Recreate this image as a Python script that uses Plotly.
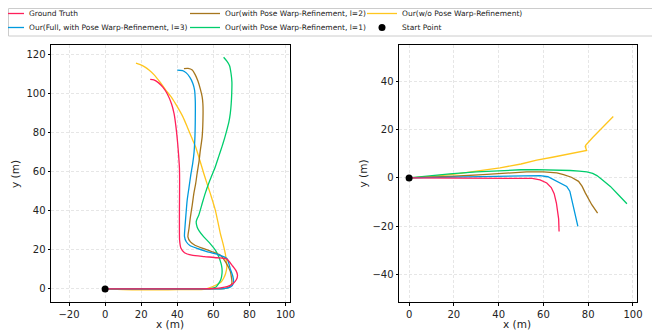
import plotly.graph_objects as go

# ---------------- data ----------------
# Left panel trajectories (x, y in metres)
gt_a_x = [0, 10, 20, 30, 40, 50, 58, 64, 68, 71, 72.8, 73.4, 72.5, 70.5, 67.5, 62, 55, 48, 44, 42, 41.3, 41.2, 41.2, 41.3, 41.2, 40.8, 40.2, 39.3, 38.2, 36.8, 34.5, 32, 29.5, 27, 25]
gt_a_y = [0, 0, 0, 0, 0, 0, 0.1, 0.5, 1.3, 2.8, 4.8, 7.0, 9.5, 12, 15.3, 16.0, 16.6, 17.3, 18.6, 21, 25, 30, 40, 55, 62, 68, 75, 83, 90, 95, 100, 103.5, 105.8, 107.2, 107.5]

full_a_x = [0, 10, 20, 30, 40, 50, 60, 66, 69.5, 71.2, 70.8, 69.5, 67.5, 62, 56, 51, 47, 45, 44, 44.3, 44.8, 45.5, 46.5, 47.5, 48.5, 49.3, 49.8, 50, 50, 49.6, 48.6, 47, 45, 43, 40]
full_a_y = [0, 0, 0, 0, 0, 0, 0, 0.2, 1.0, 3.0, 6.5, 10, 15.6, 17.8, 19.3, 20.8, 22.3, 24.2, 27, 32, 38, 45.5, 52, 58.5, 64, 70, 78, 88, 96, 102, 105.5, 108.5, 110.8, 112, 112.2]

l2_a_x = [0, 10, 20, 30, 40, 50, 60, 66, 68.8, 70.3, 70.1, 69.4, 67, 63.9, 59, 54.7, 50, 47.3, 45.9, 46.5, 47.3, 48.3, 49.2, 50.2, 51, 52, 52.8, 53.8, 54.3, 54.2, 53.8, 52.8, 51.5, 50, 48.3, 46, 43.7]
l2_a_y = [0, 0, 0, 0, 0, 0, 0, 0.2, 1.0, 3.0, 5.5, 9, 13.5, 17.3, 19.2, 20.7, 22.3, 24.1, 26.7, 31, 37, 43, 49, 54, 59.2, 65, 71.2, 78, 90, 95, 98.5, 102.5, 106.5, 109.8, 112.3, 113.1, 113]

l1_a_x = [0, 10, 20, 30, 40, 50, 58.3, 61.5, 62.9, 64.2, 64.8, 64.8, 64.3, 63, 61.1, 58, 54.7, 52.3, 51, 50.5, 51, 51.9, 53.8, 55.5, 57.4, 59.3, 61.1, 63, 64.8, 66.3, 67.5, 68.6, 69.4, 69.9, 70.2, 70.3, 69.8, 69, 67.5, 65.7]
l1_a_y = [0, 0, 0, 0, 0, 0, 0.2, 1.0, 2.7, 5, 7.9, 10.5, 13, 16.5, 19.9, 23.5, 26.7, 29.5, 31.8, 34.4, 36, 37.8, 43.8, 49, 54.1, 58.5, 62.7, 68, 73, 77.5, 81.5, 85.5, 90, 95, 100.3, 106, 110.6, 114.5, 116.8, 118.8]

wo_a_x = [0, 10, 20, 30, 40, 47.3, 54.7, 59, 62, 64.3, 65.7, 66.8, 67.5, 67.2, 66.6, 65.3, 63.9, 62.5, 61.1, 59.8, 58.3, 56.5, 54.7, 52.5, 50.1, 47.8, 45.5, 43, 40, 37, 33.6, 30.5, 27.2, 24.5, 21.7, 19.5, 17.1]
wo_a_y = [0, -0.3, -0.5, -0.5, -0.4, -0.3, -0.2, 1.0, 2.3, 3.6, 5.5, 7.9, 11.5, 14.7, 18.2, 23.5, 28.4, 34.5, 40.4, 44.5, 49, 54, 59.2, 66, 73, 78, 83.2, 88.5, 93.5, 98, 102, 106, 109.8, 112.2, 114, 115, 115.8]

# Right panel trajectories
gt_b_x = [0, 10, 20, 30, 40, 50, 55, 58.5, 61.5, 63.5, 64.8, 65.8, 66.4, 66.8, 67]
gt_b_y = [0, 0, 0, 0, 0, 0, -0.2, -0.8, -2.1, -4, -6.5, -10.4, -13.5, -17, -22.2]

full_b_x = [0, 10, 20, 33, 45, 52, 58.5, 62, 64.5, 67.5, 70.4, 71.8, 72.8, 73.7, 74.6, 75.4]
full_b_y = [0, 0.2, 0.4, 0.7, 0.9, 1.0, 1.0, 0.5, -0.7, -2.0, -3.5, -5.5, -9.5, -13.9, -17, -20.1]

l2_b_x = [0, 10, 20, 33, 45, 52.5, 60, 66, 69, 72.5, 75.7, 77.3, 78.7, 80.2, 81.6, 84.2]
l2_b_y = [0, 0.3, 0.7, 1.4, 2.1, 2.5, 2.5, 2.1, 1.4, 0.3, -1.4, -3.5, -6.2, -8.8, -11.1, -14.6]

l1_b_x = [0, 8, 18.2, 30, 40.6, 50, 57, 65, 72, 76, 79.4, 82, 83.9, 86, 89.9, 94, 97.3]
l1_b_y = [0, 0.8, 1.7, 2.5, 3.1, 3.4, 3.5, 3.4, 3.1, 2.8, 2.5, 1.9, 1.0, -0.5, -3.5, -7.5, -10.7]

wo_b_x = [0, 10, 21.2, 30, 40.6, 50, 57, 64, 70.4, 75, 78.7, 79.3, 78.6, 79.0, 78.8, 82, 86, 91.2]
wo_b_y = [0, 0.6, 1.7, 2.8, 4.2, 5.8, 7.4, 8.6, 9.7, 10.6, 11.2, 11.4, 13.3, 12.6, 13.5, 16.8, 20.5, 25.5]

start_x = [0]
start_y = [0]

names = ["Ground Truth", "Our(Full, with Pose Warp-Refinement, l=3)",
         "Our(with Pose Warp-Refinement, l=2)", "Our(with Pose Warp-Refinement, l=1)",
         "Our(w/o Pose Warp-Refinement)", "Start Point"]
colors = ["#FF1F5B", "#009ADE", "#A6761D", "#00CD6C", "#FFC61E", "#000000"]

left_series = [(gt_a_x, gt_a_y), (full_a_x, full_a_y), (l2_a_x, l2_a_y), (l1_a_x, l1_a_y), (wo_a_x, wo_a_y)]
right_series = [(gt_b_x, gt_b_y), (full_b_x, full_b_y), (l2_b_x, l2_b_y), (l1_b_x, l1_b_y), (wo_b_x, wo_b_y)]

x_ticks_left = [-20, 0, 20, 40, 60, 80, 100]
y_ticks_left = [0, 20, 40, 60, 80, 100, 120]
x_ticks_right = [0, 20, 40, 60, 80, 100]
y_ticks_right = [-40, -20, 0, 20, 40]

# ---------------- layout helpers ----------------
OFF = 8            # browser body margin
W, H = 652, 322    # figure size so that figure + offset fills the 660x330 window


def px(sx):        # screen x -> paper fraction
    return (sx - OFF) / W


def py(sy):        # screen y -> paper fraction
    return 1 - (sy - OFF) / H


# legend slot per series: (legend id, text-left screen x, row centre screen y)
TXT_OFF = 38
slots = {0: ("legend", 27, 13), 2: ("legend2", 223, 13), 4: ("legend3", 400, 13),
         1: ("legend4", 27, 27), 3: ("legend5", 223, 27), 5: ("legend6", 400, 27)}

# ---------------- figure ----------------
fig = go.Figure()

draw_order = [4, 3, 2, 1, 0]
for i in draw_order:
    x, y = left_series[i]
    fig.add_trace(go.Scatter(x=x, y=y, mode="lines", name=names[i],
                             line=dict(color=colors[i], width=1.3, shape="spline", smoothing=0.6),
                             legend=slots[i][0], showlegend=True, xaxis="x", yaxis="y"))
for i in draw_order:
    x, y = right_series[i]
    fig.add_trace(go.Scatter(x=x, y=y, mode="lines", name=names[i],
                             line=dict(color=colors[i], width=1.3),
                             showlegend=False, xaxis="x2", yaxis="y2"))

fig.add_trace(go.Scatter(x=start_x, y=start_y, mode="markers", name=names[5],
                         marker=dict(color="black", size=7), legend=slots[5][0],
                         xaxis="x", yaxis="y"))
fig.add_trace(go.Scatter(x=start_x, y=start_y, mode="markers", name=names[5],
                         marker=dict(color="black", size=7), showlegend=False,
                         xaxis="x2", yaxis="y2"))

axis_common = dict(showline=True, linecolor="black", linewidth=1, mirror=True,
                   ticks="outside", ticklen=2.5, tickcolor="black", tickwidth=0.8,
                   showgrid=True, gridcolor="#e6e6e6", gridwidth=0.8, griddash="3px,2px",
                   zeroline=False, tickfont=dict(size=10, color="#222222"), automargin=False)

legends = {}
for i, (lid, tx, ry) in slots.items():
    legends[lid] = dict(orientation="h", x=px(tx - TXT_OFF), y=py(ry - 14),
                        xanchor="left", yanchor="top", bgcolor="rgba(0,0,0,0)", borderwidth=0,
                        font=dict(size=7.5, color="#222222"), itemwidth=30)

fig.update_layout(
    width=W, height=H,
    margin=dict(l=0, r=0, t=0, b=0, autoexpand=False),
    paper_bgcolor="white", plot_bgcolor="white",
    font=dict(family="DejaVu Sans", color="#222222"),
    xaxis=dict(domain=[px(51), px(290)], range=[-30, 102.5], tickvals=x_ticks_left,
               anchor="y", **axis_common),
    yaxis=dict(domain=[py(302), py(45)], range=[-6.7, 125.1], tickvals=y_ticks_left,
               anchor="x", **axis_common),
    xaxis2=dict(domain=[px(399), px(637)], range=[-4.5, 101.8], tickvals=x_ticks_right,
                anchor="y2", **axis_common),
    yaxis2=dict(domain=[py(302), py(45)], range=[-51.5, 55.2], tickvals=y_ticks_right,
                anchor="x2", **axis_common),
    showlegend=True,
    **legends,
)

# legend frame
fig.add_shape(type="rect", xref="paper", yref="paper",
              x0=px(8.5), x1=px(657), y0=py(36), y1=py(8.5),
              line=dict(color="#cccccc", width=1), fillcolor="white", layer="below")

# axis titles
title_font = dict(size=10.5, color="#222222", family="DejaVu Sans")
for (sx, sy, txt, ang) in [(170, 323.5, "x (m)", 0), (517, 323.5, "x (m)", 0),
                           (15, 174, "y (m)", -90), (362.5, 174, "y (m)", -90)]:
    fig.add_annotation(x=px(sx), y=py(sy), xref="paper", yref="paper", text=txt,
                       showarrow=False, textangle=ang, font=title_font,
                       xanchor="center", yanchor="middle")

fig.write_html("out.html")
